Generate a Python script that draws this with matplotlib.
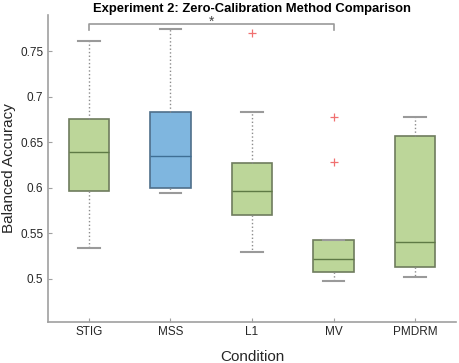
import matplotlib
matplotlib.use('Agg')
import matplotlib.pyplot as plt

plt.rcParams['font.family'] = ['Liberation Sans', 'DejaVu Sans']

# Box statistics
conditions = ['STIG', 'MSS', 'L1', 'MV', 'PMDRM']
whis_lo = [0.534, 0.594, 0.529, 0.498, 0.502]
q1 = [0.596, 0.600, 0.570, 0.507, 0.513]
medians = [0.639, 0.635, 0.597, 0.522, 0.540]
q3 = [0.676, 0.683, 0.627, 0.543, 0.657]
whis_hi = [0.761, 0.775, 0.683, 0.543, 0.678]
outliers = [[], [], [0.770], [0.678, 0.628], []]
fill_colors = ['#BCD699', '#7FB6DF', '#BCD699', '#BCD699', '#BCD699']
edge_colors = ['#6E7C5E', '#4F6F8A', '#6E7C5E', '#6E7C5E', '#6E7C5E']
median_colors = ['#5E7A45', '#3F6F95', '#5E7A45', '#5E7A45', '#5E7A45']

fig = plt.figure(figsize=(4.59, 3.63), dpi=100)
ax = fig.add_axes([0.105, 0.114, 0.888, 0.845])

stats = []
for i, name in enumerate(conditions):
    stats.append(dict(label=name, whislo=whis_lo[i], q1=q1[i], med=medians[i],
                      q3=q3[i], whishi=whis_hi[i], fliers=outliers[i]))

bp = ax.bxp(stats, positions=range(1, 6), widths=0.5, patch_artist=True,
            showfliers=True,
            whiskerprops=dict(color='#8C8C8C', linestyle=':', linewidth=1.0),
            capprops=dict(color='#9A9A9A', linewidth=1.5),
            flierprops=dict(marker='+', markeredgecolor='#F07070', markersize=6,
                            markeredgewidth=0.9, linestyle='none'))
for i, box in enumerate(bp['boxes']):
    box.set_facecolor(fill_colors[i])
    box.set_edgecolor(edge_colors[i])
    box.set_linewidth(1.2)
    bp['medians'][i].set_color(median_colors[i])
    bp['medians'][i].set_linewidth(1.0)
for cap in bp['caps']:
    x0, x1 = cap.get_xdata()
    c = (x0 + x1) / 2
    cap.set_xdata([c - 0.133, c + 0.133])

# significance bracket STIG vs MV
ax.plot([1, 1, 4, 4], [0.773, 0.7805, 0.7805, 0.773], color='#9A9A9A',
        linewidth=1.2, clip_on=False)
ax.text(2.5, 0.7783, '*', ha='center', va='baseline', fontsize=10, color='#444444')

ax.set_xlim(0.5, 5.5)
ax.set_ylim(0.453, 0.79)
ax.set_yticks([0.5, 0.55, 0.6, 0.65, 0.7, 0.75])
ax.set_yticklabels(['0.5', '0.55', '0.6', '0.65', '0.7', '0.75'])
ax.set_xticks(range(1, 6))
ax.set_xticklabels(conditions)
ax.tick_params(direction='in', length=3, color='#A0A0A0', labelsize=8.5,
               labelcolor='#262626')
ax.spines['top'].set_visible(False)
ax.spines['right'].set_visible(False)
ax.spines['left'].set_color('#A0A0A0')
ax.spines['bottom'].set_color('#A0A0A0')
ax.spines['left'].set_linewidth(1.2)
ax.spines['bottom'].set_linewidth(1.2)

ax.set_xlabel('Condition', fontsize=11, color='#262626', labelpad=8)
ax.set_ylabel('Balanced Accuracy', fontsize=11, color='#262626')
ax.yaxis.set_label_coords(-0.08, 0.5)
ax.set_title('Experiment 2: Zero-Calibration Method Comparison', fontsize=9.4,
             fontweight='bold', pad=2)

fig.savefig('out.png', dpi=100)
